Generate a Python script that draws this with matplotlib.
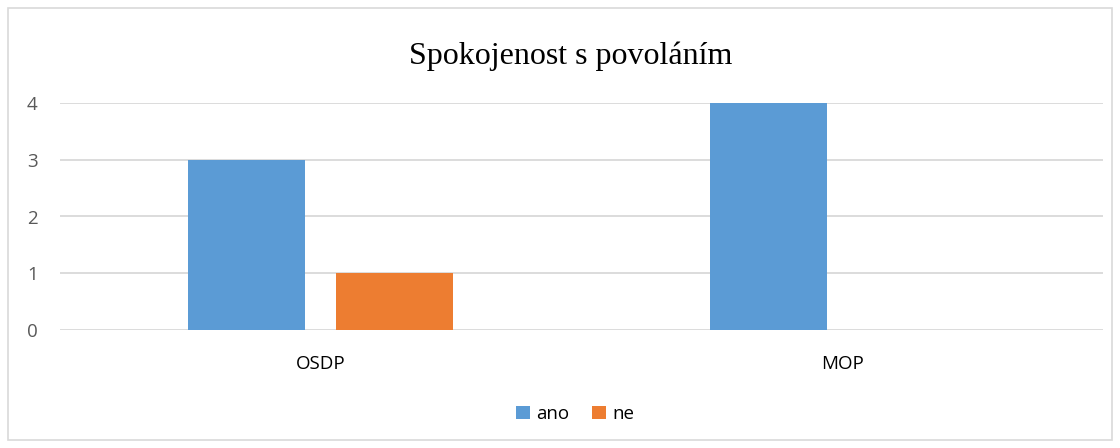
import numpy as np
import matplotlib
matplotlib.use("Agg")
import matplotlib.pyplot as plt
from matplotlib.patches import Rectangle

categories = ["OSDP", "MOP"]
ano = [3, 4]
ne = [1, 0]
series_names = ["ano", "ne"]
title = "Spokojenost s povoláním"

blue = "#5B9BD5"
orange = "#ED7D31"

fig = plt.figure(figsize=(11.2, 4.48), dpi=100)
ax = fig.add_axes([60 / 1120, 1 - 330 / 448, 1043 / 1120, 227 / 448])

x = np.arange(len(categories))
w = 0.224
off = 0.142
ax.bar(x - off, ano, w, color=blue, label=series_names[0], zorder=3)
ax.bar(x + off, ne, w, color=orange, label=series_names[1], zorder=3)

ax.set_xlim(-0.5, len(categories) - 0.5)
ax.set_ylim(0, 4)
ax.set_yticks(range(0, 5))
ax.yaxis.grid(True, color="#D9D9D9", linewidth=1.3, zorder=0)
ax.set_axisbelow(True)
for s in ax.spines.values():
    s.set_visible(False)
ax.set_xticks(x)
ax.set_xticklabels(categories, fontsize=13.5, color="black", family="Open Sans")
ax.tick_params(axis="both", length=0)
ax.tick_params(axis="y", pad=16, labelsize=13.5, labelcolor="#595959")
ax.tick_params(axis="x", pad=18)
for t in ax.get_yticklabels():
    t.set_family("Open Sans")

fig.text(571 / 1120, 1 - 56 / 448, title, ha="center", va="center", fontsize=23,
         family="Liberation Serif")

fig.legend(loc="center", bbox_to_anchor=(575 / 1120, 1 - 414 / 448), ncol=2,
           frameon=False, prop={"family": "Open Sans", "size": 13.5},
           handlelength=0.75, handleheight=0.75, handletextpad=0.35,
           columnspacing=1.2)

fig.patches.append(Rectangle((8 / 1120, 8 / 448), 1104 / 1120, 432 / 448,
                             transform=fig.transFigure, fill=False,
                             edgecolor="#D9D9D9", linewidth=1.2))

fig.savefig("out.png", dpi=100)
